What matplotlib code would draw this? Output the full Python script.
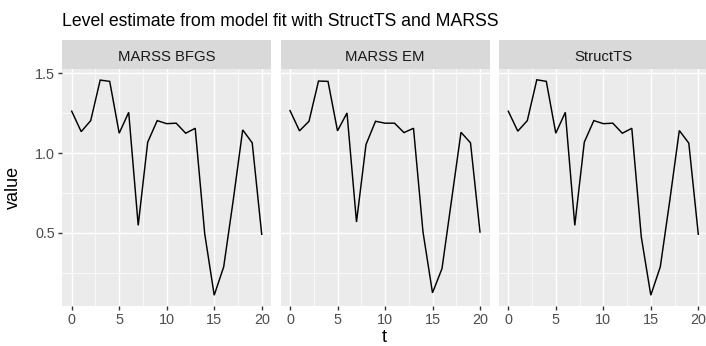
import matplotlib
matplotlib.use("Agg")
import matplotlib.pyplot as plt
import numpy as np

plt.rcParams['font.family'] = ['Liberation Sans', 'DejaVu Sans']

# Level estimates (time index 0..20) for each fitting method
t = list(range(21))
panels = ["MARSS BFGS", "MARSS EM", "StructTS"]
level_bfgs = [1.263, 1.135, 1.204, 1.458, 1.450, 1.125, 1.256, 0.548, 1.069, 1.204,
              1.185, 1.188, 1.125, 1.156, 0.496, 0.110, 0.288, 0.704, 1.146, 1.065, 0.492]
level_em = [1.267, 1.140, 1.200, 1.452, 1.450, 1.140, 1.252, 0.569, 1.054, 1.200,
            1.188, 1.188, 1.129, 1.156, 0.506, 0.125, 0.277, 0.704, 1.131, 1.065, 0.506]
level_structts = [1.263, 1.138, 1.204, 1.460, 1.450, 1.125, 1.256, 0.548, 1.069, 1.204,
                  1.185, 1.188, 1.125, 1.156, 0.475, 0.110, 0.288, 0.704, 1.142, 1.063, 0.492]
series = [level_bfgs, level_em, level_structts]

x_ticks = [0, 5, 10, 15, 20]
y_ticks = [0.5, 1.0, 1.5]
y_ticklabels = ["0.5", "1.0", "1.5"]

W, H = 706, 346
fig = plt.figure(figsize=(W / 100, H / 100), dpi=100)

panel_left = [62.2, 280.5, 498.8]
panel_w = 209.0
panel_top = 69.0
panel_bot = 306.0
strip_top = 40.0

all_vals = np.concatenate([np.asarray(s) for s in series])
ymin, ymax = all_vals.min(), all_vals.max()
pad = 0.05 * (ymax - ymin)
ylim = (ymin - pad, ymax + pad)
xlim = (min(t) - 0.05 * (max(t) - min(t)), max(t) + 0.05 * (max(t) - min(t)))

panel_bg = "#EBEBEB"
strip_bg = "#D9D9D9"

for i, (name, vals) in enumerate(zip(panels, series)):
    x0 = panel_left[i]
    ax = fig.add_axes([x0 / W, 1 - panel_bot / H, panel_w / W, (panel_bot - panel_top) / H])
    ax.set_facecolor(panel_bg)
    for sp in ax.spines.values():
        sp.set_visible(False)
    ax.set_xlim(*xlim)
    ax.set_ylim(*ylim)
    ax.set_xticks(x_ticks)
    ax.set_xticks([2.5, 7.5, 12.5, 17.5], minor=True)
    ax.set_yticks(y_ticks)
    ax.set_yticks([0.25, 0.75, 1.25], minor=True)
    ax.grid(True, which="major", color="white", linewidth=1.05)
    ax.grid(True, which="minor", color="white", linewidth=0.5)
    ax.set_axisbelow(True)
    ax.tick_params(which="major", length=2.75, width=1.0, color="#333333",
                   labelsize=10.4, labelcolor="#4D4D4D", pad=2.6)
    ax.tick_params(which="minor", length=0)
    if i == 0:
        ax.set_yticklabels(y_ticklabels)
    else:
        ax.tick_params(axis="y", which="major", length=0, labelleft=False)
    ax.plot(t, vals, color="black", linewidth=1.05, solid_joinstyle="miter")

    sax = fig.add_axes([x0 / W, 1 - (panel_top - 0.5) / H, panel_w / W, (panel_top - 0.5 - strip_top) / H])
    sax.set_facecolor(strip_bg)
    sax.set_xticks([])
    sax.set_yticks([])
    for sp in sax.spines.values():
        sp.set_visible(False)
    fig.text((x0 + panel_w / 2) / W, 1 - 60.7 / H, name, ha="center", va="baseline",
             fontsize=10.7, color="#1A1A1A")

fig.text(62 / W, 1 - 26.2 / H, "Level estimate from model fit with StructTS and MARSS",
         fontsize=12.7, color="black", ha="left", va="baseline")
fig.text(13 / W, 1 - (panel_top + panel_bot) / 2 / H, "value", rotation=90,
         fontsize=13, color="black", ha="center", va="center")
fig.text((panel_left[0] + 706) / 2 / W, 1 - 338 / H, "t",
         fontsize=13, color="black", ha="center", va="center")

fig.savefig("out.png", dpi=100)
